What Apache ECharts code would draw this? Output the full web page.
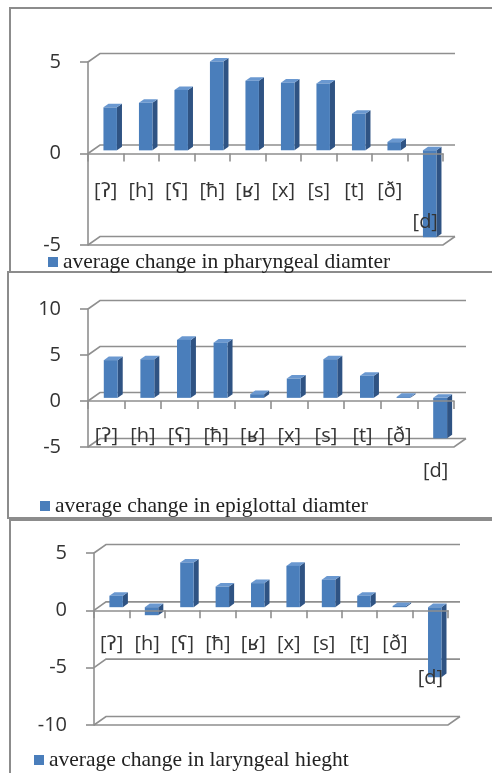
<!DOCTYPE html>
<html>
<head>
<meta charset="utf-8">
<script src="https://cdn.jsdelivr.net/npm/echarts@6/dist/echarts.min.js"></script>
<style>
  html, body { margin: 0; padding: 0; background: #fff; }
  #chart { width: 492px; height: 773px; }
</style>
</head>
<body>
<div id="chart"></div>
<script>
// Phonemes along the category axis
const categories = ['[ʔ]', '[h]', '[ʕ]', '[ħ]', '[ʁ]', '[x]', '[s]', '[t]', '[ð]', '[d]'];

// Average changes per phoneme
const pharyngeal = [2.35, 2.6, 3.3, 4.85, 3.8, 3.7, 3.65, 2.0, 0.45, -4.75];
const epiglottal = [4.1, 4.2, 6.3, 6.0, 0.4, 2.1, 4.2, 2.4, 0.1, -4.4];
const laryngeal = [1.0, -0.7, 3.9, 1.8, 2.1, 3.6, 2.4, 1.0, 0.1, -6.1];

// Value-axis tick values for each panel
const ticksPharyngeal = [-5, 0, 5];
const ticksEpiglottal = [-5, 0, 5, 10];
const ticksLaryngeal = [-10, -5, 0, 5];

const seriesNames = [
  'average change in pharyngeal diamter',
  'average change in epiglottal diamter',
  'average change in laryngeal hieght'
];

// Styling
const DEPTH = [12, -8.5];           // back-wall offset of the pseudo-3D box
const GRID_COLOR = '#8f8f8f';
const BAR_FRONT = '#4a7ebb';
const BAR_SIDE = '#2f5383';
const BAR_TOP = '#6a98d0';
const SANS = '"Open Sans", "DejaVu Sans", sans-serif';
const SERIF = '"Liberation Serif", "DejaVu Serif", serif';
const CHART_H = 773;

const panels = [
  { values: pharyngeal, ticks: ticksPharyngeal, grid: { left: 88, right: 49, top: 62, bottom: 528 }, labelGap: 28, labelDrop: 31, legendTop: 251, legendLeft: 48 },
  { values: epiglottal, ticks: ticksEpiglottal, grid: { left: 88, right: 38, top: 309, bottom: 326 }, labelGap: 25, labelDrop: 35, legendTop: 495, legendLeft: 40 },
  { values: laryngeal, ticks: ticksLaryngeal, grid: { left: 94, right: 44, top: 553, bottom: 48 }, labelGap: 24, labelDrop: 34, legendTop: 749, legendLeft: 34 }
];

function wallRenderer(minTick) {
  return function (params, api) {
    const t = api.value(1);
    const band = api.size([1, 0])[0];
    const pl = api.coord([0, t]);
    const pr = api.coord([categories.length - 1, t]);
    const xl = pl[0] - band / 2, xr = pr[0] + band / 2, y = pl[1];
    const style = { stroke: GRID_COLOR, lineWidth: 1.6, fill: null };
    const children = [{
      type: 'polyline',
      shape: { points: [[xl, y], [xl + DEPTH[0], y + DEPTH[1]], [xr + DEPTH[0], y + DEPTH[1]]] },
      style: style
    }];
    if (t === minTick) {
      children.push({
        type: 'polyline',
        shape: { points: [[xl, y], [xr, y], [xr + DEPTH[0], y + DEPTH[1]]] },
        style: style
      });
    }
    return { type: 'group', children: children };
  };
}

function barRenderer(params, api) {
  const i = api.value(0), v = api.value(1);
  const band = api.size([1, 0])[0];
  const p0 = api.coord([i, 0]);
  const p1 = api.coord([i, v]);
  const w = band * 0.38;
  const ox = DEPTH[0] * 0.37, oy = DEPTH[1] * 0.37;
  const dx = DEPTH[0] * 0.42, dy = DEPTH[1] * 0.42;
  const xl = p0[0] - w / 2 + ox, xr = p0[0] + w / 2 + ox;
  const yTop = Math.min(p0[1], p1[1]) + oy;
  const yBot = Math.max(p0[1], p1[1]) + oy;
  return {
    type: 'group',
    children: [
      { type: 'polygon', shape: { points: [[xr, yTop], [xr + dx, yTop + dy], [xr + dx, yBot + dy], [xr, yBot]] }, style: { fill: BAR_SIDE } },
      { type: 'polygon', shape: { points: [[xl, yTop], [xr, yTop], [xr + dx, yTop + dy], [xl + dx, yTop + dy]] }, style: { fill: BAR_TOP } },
      { type: 'rect', shape: { x: xl, y: yTop, width: w, height: yBot - yTop }, style: { fill: BAR_FRONT } }
    ]
  };
}

const grid = [], xAxis = [], yAxis = [], series = [], legend = [];

panels.forEach(function (p, k) {
  grid.push(p.grid);
  const min = p.ticks[0], max = p.ticks[p.ticks.length - 1];
  // category labels hang below the zero line, so measure their margin from the grid's lower edge
  const plotH = CHART_H - p.grid.top - p.grid.bottom;
  const zeroAboveBottom = plotH * (0 - min) / (max - min);
  xAxis.push({
    type: 'category', gridIndex: k, data: categories, z: 3,
    axisLine: { onZero: true, lineStyle: { color: GRID_COLOR, width: 1.6 } },
    axisTick: { show: true, length: 8, alignWithLabel: false, lineStyle: { color: GRID_COLOR, width: 1.6 } },
    axisLabel: {
      interval: 0, margin: p.labelGap - zeroAboveBottom, color: '#333', fontFamily: SANS, fontSize: 20,
      formatter: function (v, idx) { return idx === categories.length - 1 ? '{low|' + v + '}' : v; },
      rich: { low: { padding: [p.labelDrop, 0, 0, 0], color: '#333', fontFamily: SANS, fontSize: 20 } }
    },
    splitLine: { show: false }
  });
  yAxis.push({
    type: 'value', gridIndex: k, min: min, max: max, interval: 5,
    axisLine: { show: true, lineStyle: { color: GRID_COLOR, width: 1.6 } },
    axisTick: { show: true, length: 8, lineStyle: { color: GRID_COLOR, width: 1.6 } },
    axisLabel: { margin: 27, padding: [6, 0, 0, 0], color: '#333', fontFamily: SANS, fontSize: 20 },
    splitLine: { show: false }
  });
  series.push({
    type: 'custom', name: 'walls' + k, xAxisIndex: k, yAxisIndex: k, z: 1, silent: true,
    renderItem: wallRenderer(min),
    data: p.ticks.map(function (t) { return [0, t]; }),
    encode: { x: 0, y: 1 }
  });
  series.push({
    type: 'custom', name: seriesNames[k], xAxisIndex: k, yAxisIndex: k, z: 2,
    itemStyle: { color: BAR_FRONT },
    renderItem: barRenderer,
    data: p.values.map(function (v, i) { return [i, v]; }),
    encode: { x: 0, y: 1 }
  });
  legend.push({
    data: [{ name: seriesNames[k], icon: 'rect' }],
    left: p.legendLeft, top: p.legendTop, selectedMode: false,
    itemWidth: 10, itemHeight: 10, padding: 0,
    textStyle: { fontFamily: SERIF, fontSize: 21.5, color: '#222' }
  });
});

// Panel frames
const frameStyle = { stroke: '#8c8c8c', lineWidth: 2, fill: null };
const graphic = [
  { type: 'rect', shape: { x: 10, y: 8, width: 490, height: 264 }, style: frameStyle, silent: true },
  { type: 'rect', shape: { x: 8, y: 272, width: 492, height: 246 }, style: frameStyle, silent: true },
  { type: 'rect', shape: { x: 10, y: 520, width: 490, height: 270 }, style: frameStyle, silent: true }
];

const chart = echarts.init(document.getElementById('chart'), null, { renderer: 'canvas' });
chart.setOption({
  animation: false,
  backgroundColor: '#ffffff',
  grid: grid, xAxis: xAxis, yAxis: yAxis, series: series, legend: legend, graphic: graphic
});
</script>
</body>
</html>
